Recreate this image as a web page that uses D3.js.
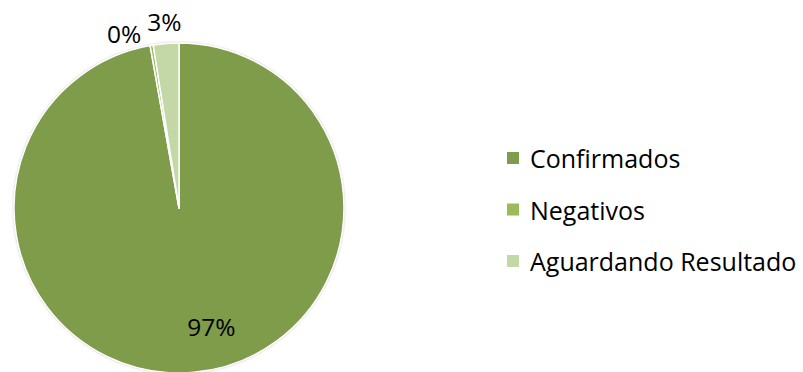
<!DOCTYPE html>
<html>
<head>
<meta charset="utf-8">
<script src="https://cdn.jsdelivr.net/npm/d3@7"></script>
<style>
  html, body { margin: 0; padding: 0; background: #fff; }
  svg { display: block; }
  text { font-family: "Open Sans", "Noto Sans", sans-serif; fill: #000; }
</style>
</head>
<body>
<svg id="chart" width="803" height="372"></svg>
<script>
// Situação dos casos
const categories = ["Confirmados", "Negativos", "Aguardando Resultado"];
const values = [97.2, 0.3, 2.5];
const colors = ["#7F9C4A", "#9BBB59", "#C4D7A6"];

const width = 803, height = 372;
const cx = 179, cy = 208, radius = 165;
const fontSize = 24.5;

const svg = d3.select("#chart");

// soft grey shadow around the pie rim
const defs = svg.append("defs");
const f = defs.append("filter").attr("id", "rim").attr("x", "-10%").attr("y", "-10%")
  .attr("width", "120%").attr("height", "120%");
f.append("feDropShadow").attr("dx", 0).attr("dy", 0).attr("stdDeviation", 1.4)
  .attr("flood-color", "#000").attr("flood-opacity", 0.35);

const total = d3.sum(values);
const data = categories.map((c, i) => ({ name: c, value: values[i], color: colors[i] }));

const pie = d3.pie().value(d => d.value).sort(null);
const arcs = pie(data);
const arc = d3.arc().innerRadius(0).outerRadius(radius);

const g = svg.append("g").attr("transform", `translate(${cx},${cy})`);

g.append("circle").attr("r", radius).attr("fill", "#fff").attr("filter", "url(#rim)");

g.selectAll("path.slice")
  .data(arcs)
  .join("path")
  .attr("class", "slice")
  .attr("d", arc)
  .attr("fill", d => d.data.color)
  .attr("stroke", "#fff")
  .attr("stroke-width", 1.5)
  .attr("stroke-linejoin", "round");

const fmt = d => d3.format(".0%")(d.data.value / total);

// labels: large slice inside, thin slices outside the rim
const insideArc = d3.arc().innerRadius(radius * 0.72).outerRadius(radius * 0.72);
const outsideArc = d3.arc().innerRadius(radius + 22).outerRadius(radius + 22);

const labels = arcs.map(d => {
  const share = d.data.value / total;
  const inside = share > 0.1;
  const [x, y] = inside ? insideArc.centroid(d) : outsideArc.centroid(d);
  return { d, inside, x: inside ? x + 22 : x, y, text: fmt(d) };
});

const lbl = g.selectAll("text.lbl")
  .data(labels)
  .join("text")
  .attr("class", "lbl")
  .attr("x", l => l.x)
  .attr("y", l => l.y)
  .attr("text-anchor", "middle")
  .attr("dominant-baseline", "central")
  .style("font-size", fontSize + "px")
  .text(l => l.text);

// push overlapping outside labels apart (leftwards, slightly down)
const outs = lbl.filter(l => !l.inside).nodes();
for (let i = outs.length - 2; i >= 0; i--) {
  const a = outs[i].getBBox(), b = outs[i + 1].getBBox();
  if (a.x + a.width > b.x - 6) {
    const shift = a.x + a.width - (b.x - 6);
    const l = d3.select(outs[i]).datum();
    l.x -= shift;
    l.y += 10;
    d3.select(outs[i]).attr("x", l.x).attr("y", l.y);
  }
}

// legend
const legend = svg.append("g").attr("transform", "translate(507,158)");
const item = legend.selectAll("g")
  .data(data)
  .join("g")
  .attr("transform", (d, i) => `translate(0,${i * 51.5})`);
item.append("rect")
  .attr("x", 0).attr("y", -6).attr("width", 12).attr("height", 12)
  .attr("fill", d => d.color);
item.append("text")
  .attr("x", 23).attr("y", 0)
  .attr("dominant-baseline", "central")
  .style("font-size", "25px")
  .text(d => d.name);
</script>
</body>
</html>
